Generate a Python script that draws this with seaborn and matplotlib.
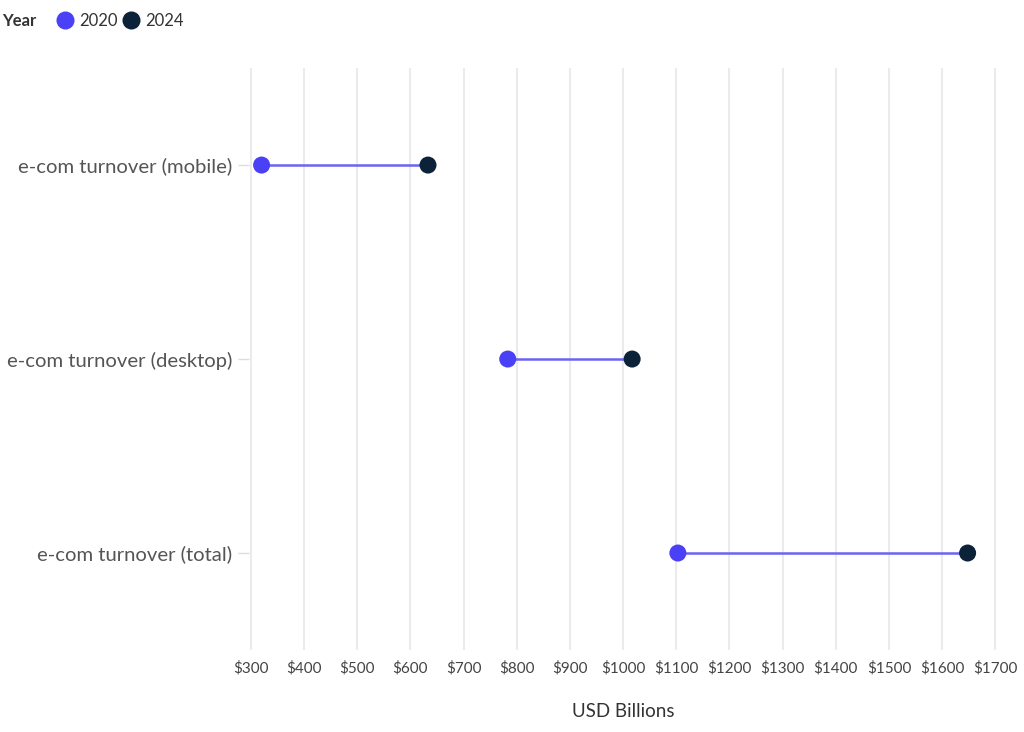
import pandas as pd
import matplotlib.pyplot as plt
import seaborn as sns
from matplotlib.lines import Line2D

categories = ['e-com turnover (mobile)', 'e-com turnover (desktop)', 'e-com turnover (total)']
values_2020 = [320, 783, 1103]
values_2024 = [633, 1017, 1648]
years = ['2020', '2024']
x_ticks = list(range(300, 1800, 100))

colors = {'2020': '#4a40f5', '2024': '#0b2238'}
line_color = '#6b64f2'

sns.set_theme(style='white')
plt.rcParams['font.family'] = ['Lato', 'DejaVu Sans']

df = pd.DataFrame({
    'category': categories * 2,
    'value': values_2020 + values_2024,
    'year': [years[0]] * 3 + [years[1]] * 3,
})

fig = plt.figure(figsize=(10.24, 7.32), dpi=100)
ax = fig.add_axes([0.243, 0.112, 0.731, 0.795])

ax.hlines(y=categories, xmin=values_2020, xmax=values_2024, color=line_color, linewidth=1.8, zorder=2)
sns.scatterplot(data=df, x='value', y='category', hue='year', palette=colors, s=150,
                edgecolor='none', legend=False, ax=ax, zorder=3)

ax.set_xlim(296, 1704)
ax.set_ylim(2.5, -0.5)
ax.set_xticks(x_ticks)
ax.set_xticklabels([f'${t}' for t in x_ticks])
ax.grid(axis='x', color='#ebebeb', linewidth=1.5)
ax.grid(axis='y', visible=False)
ax.set_axisbelow(True)
for s in ax.spines.values():
    s.set_visible(False)
ax.tick_params(axis='x', length=0, labelsize=11, labelcolor='#444444', pad=8)
ax.tick_params(axis='y', length=8, width=1, color='#dddddd', labelsize=14.6, labelcolor='#555555', pad=4, left=True)
ax.set_xlabel('USD Billions', fontsize=13.5, color='#333333', labelpad=20)
ax.set_ylabel('')

fig.text(0.002, 0.971, 'Year', fontsize=12, fontweight='bold', color='#333333', va='center')
handles = [Line2D([0], [0], marker='o', linestyle='', markersize=13, markerfacecolor=colors[y],
                  markeredgecolor='none', label=y) for y in years]
fig.legend(handles=handles, loc='center left', bbox_to_anchor=(0.046, 0.971), ncol=2, frameon=False,
           fontsize=12, handletextpad=0.25, columnspacing=0.2, borderpad=0, handlelength=1.2,
           labelcolor='#333333')

fig.savefig('out.png', dpi=100)
